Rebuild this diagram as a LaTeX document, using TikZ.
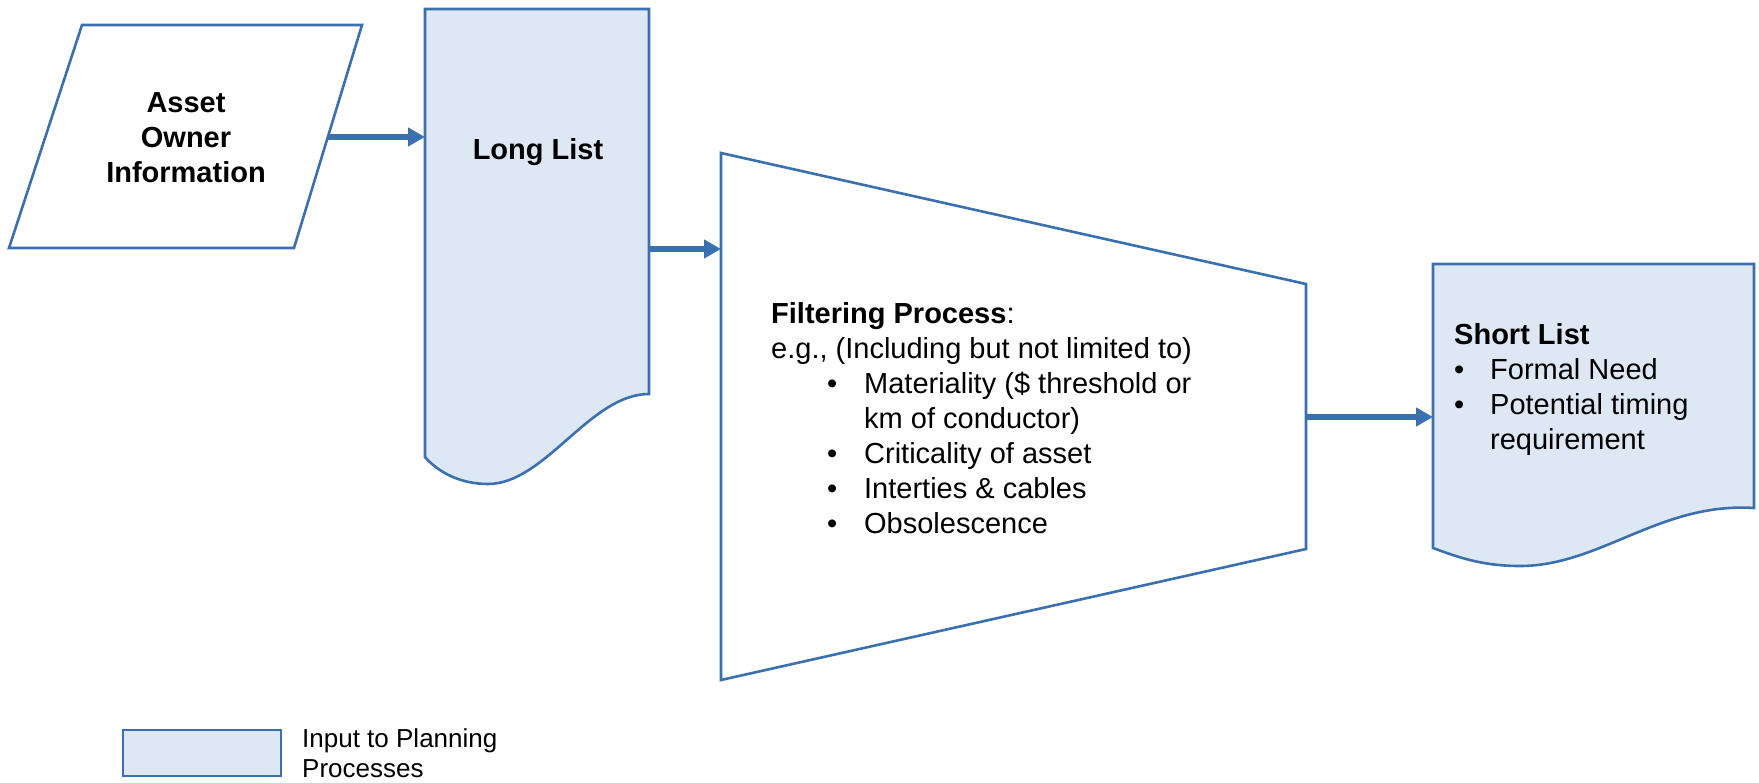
\documentclass[tikz,border=0pt]{standalone}
\usepackage{fontspec}
\setmainfont{Liberation Sans}
\usepackage{tikz}
\usetikzlibrary{arrows.meta,positioning}
\definecolor{flowblue}{RGB}{58,112,176}
\definecolor{listfill}{RGB}{222,232,244}
\newcommand{\blt}[2]{\makebox[#2][l]{\hspace*{#1}\textbullet}}

\begin{document}
\begin{tikzpicture}[x=1pt,y=-1pt,
   outline/.style={draw=flowblue,line width=2.6pt,line join=miter},
   listbox/.style={outline,fill=listfill},
   flow/.style={draw=flowblue,line width=5.3pt,-{Triangle[length=17pt,width=18pt]}},
   txt/.style={inner sep=0pt,align=left,font=\fontsize{29}{35}\selectfont}]
  \useasboundingbox (0,0) rectangle (1759,783);
  % shapes
  \draw[outline,fill=white] (82,25) -- (362,25) -- (294,248) -- (9,248) -- cycle;
  \draw[listbox] (425,9) -- (649,9) -- (649,394) .. controls (590,394) and (545,484) .. (488,484) .. controls (460,484) and (438,472) .. (425,457) -- cycle;
  \draw[outline] (721,153) -- (1306,284) -- (1306,549) -- (721,680) -- cycle;
  \draw[listbox] (1433,264) -- (1754,264) -- (1754,508) .. controls (1660,502) and (1600,566) .. (1520,566) .. controls (1480,566) and (1455,556) .. (1433,548) -- cycle;
  % texts
  \node[txt,align=center,anchor=north,font=\fontsize{29}{35}\selectfont\bfseries] (owner) at (186,92) {Asset\\Owner\\Information};
  \node[txt,anchor=base,font=\fontsize{29}{35}\selectfont\bfseries] (long) at (538,160) {Long List};
  \node[txt,anchor=north west] (filter) at (771,302) {\textbf{Filtering Process}:\\
    e.g., (Including but not limited to)\\
    \blt{56pt}{93pt}Materiality (\$ threshold or\\
    \hspace*{93pt}km of conductor)\\
    \blt{56pt}{93pt}Criticality of asset\\
    \blt{56pt}{93pt}Interties \& cables\\
    \blt{56pt}{93pt}Obsolescence};
  \node[txt,anchor=north west] (short) at (1454,323) {\textbf{Short List}\\
    \blt{0pt}{36pt}Formal Need\\
    \blt{0pt}{36pt}Potential timing\\
    \hspace*{36pt}requirement};
  % legend
  \node[outline,fill=listfill,minimum width=158pt,minimum height=46pt,inner sep=0pt] (key) at (202,753) {};
  \node[txt,anchor=north west,font=\fontsize{26}{30}\selectfont] (keytxt) at (302,728) {Input to Planning\\Processes};
  % connectors
  \coordinate (owner-out) at (328,137);
  \coordinate (long-in) at (425,137);
  \coordinate (long-out) at (649,249);
  \coordinate (filter-in) at (721,249);
  \coordinate (filter-out) at (1306,417);
  \coordinate (short-in) at (1433,417);
  \foreach \a/\b in {owner-out/long-in,long-out/filter-in,filter-out/short-in}\draw[flow](\a)--(\b);
\end{tikzpicture}
\end{document}
